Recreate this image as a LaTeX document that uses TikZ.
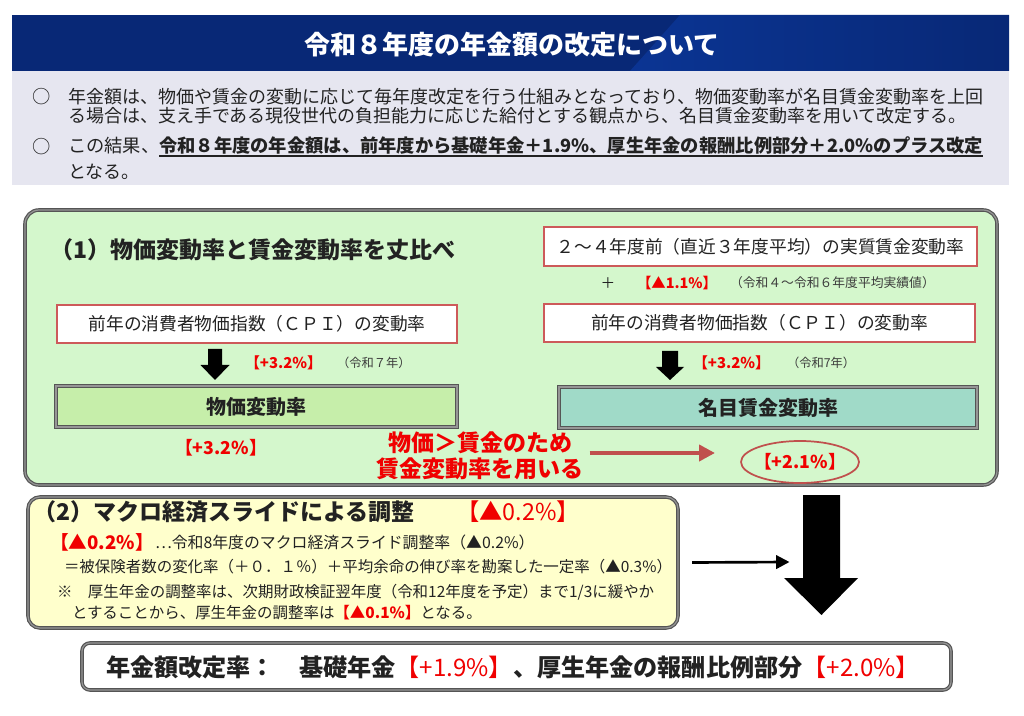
\documentclass[tikz,border=0pt]{standalone}
\usepackage{fontspec}
\setmainfont{Noto Sans CJK JP}
\usetikzlibrary{arrows.meta,shapes.geometric,calc}
\definecolor{navy}{RGB}{8,40,118}
\definecolor{navyb}{RGB}{12,58,160}
\definecolor{graybg}{RGB}{230,230,240}
\definecolor{greenbg}{RGB}{212,247,204}
\definecolor{greenbox}{RGB}{198,238,170}
\definecolor{tealbox}{RGB}{160,218,200}
\definecolor{yellowbg}{RGB}{255,255,204}
\definecolor{frame}{RGB}{85,85,85}
\definecolor{framein}{RGB}{150,150,150}
\definecolor{cpired}{RGB}{205,90,90}
\definecolor{brred}{RGB}{240,0,0}
\definecolor{dkred}{RGB}{192,80,77}
\definecolor{txt}{RGB}{34,34,34}
\definecolor{subtxt}{RGB}{60,60,60}
\newcommand\fsz[1]{\fontsize{#1}{#1}\selectfont}
\newcommand\ulbar[1]{\setbox0\hbox{#1}\rlap{\rule[-3pt]{\wd0}{1.1pt}}\box0}
\begin{document}
\begin{tikzpicture}[x=0.75pt,y=-0.75pt,
  every node/.style={inner sep=0pt,outer sep=0pt,text=txt},
  dbl/.style={draw=frame,line width=0.9pt,double=framein,double distance=0.9pt},
  cpibox/.style={draw=cpired,line width=0.9pt,fill=white,font=\fsz{13.3}},
  redv/.style={text=brred,font=\fsz{11.2}\bfseries},
  small/.style={text=subtxt,font=\fsz{9.2}},
  body/.style={anchor=west,font=\fsz{13.5}},
  bodyb/.style={anchor=west,font=\fsz{11.6}},
  blockarrow/.style={fill=black},
  thinarrow/.style={draw=black,line width=2pt,-{Triangle[length=10pt,width=10pt]}},
  redarrow/.style={draw=dkred,line width=3pt,-{Triangle[length=12pt,width=12pt]}}]
\useasboundingbox (0,0) rectangle (1024,716);
\fill[white] (0,0) rectangle (1024,716);
% header
\fill[navy] (12,15) rectangle (1009,71);
\shade[left color=navyb!70!navy,right color=navy] (680,15) -- (1009,15) -- (1009,71) -- (630,71) -- cycle;
\node[text=white,font=\fsz{19.5}\bfseries] (title) at (512,45) {令和８年度の年金額の改定について};
\fill[graybg] (12,71) rectangle (1009,185);
\node[font=\fsz{13.7}] (bul1) at (42,97) {○};
\node[body] (l1) at (68,97) {年金額は、物価や賃金の変動に応じて毎年度改定を行う仕組みとなっており、物価変動率が名目賃金変動率を上回};
\node[body] (l2) at (68,116) {る場合は、支え手である現役世代の負担能力に応じた給付とする観点から、名目賃金変動率を用いて改定する。};
\node[font=\fsz{13.7}] (bul2) at (42,147) {○};
\node[body,font=\fsz{13.7}] (l3) at (68,147) {この結果、\textbf{\ulbar{令和８年度の年金額は、前年度から基礎年金＋1.9\%、厚生年金の報酬比例部分＋2.0\%のプラス改定}}};
\node[body] (l4) at (68,172) {となる。};
% box (1)
\node[dbl,fill=greenbg,rounded corners=10.5pt,minimum width=729pt,minimum height=206.25pt] (box1) at (511,347.5) {};
\node[anchor=west,font=\fsz{17.25}\bfseries] (t1) at (50,250) {（1）物価変動率と賃金変動率を丈比べ};
\node[cpibox,minimum width=300pt,minimum height=28.5pt] (cpiL) at (257,324) {前年の消費者物価指数（ＣＰＩ）の変動率};
\node[dbl,fill=greenbox,minimum width=300.75pt,minimum height=30.75pt,font=\fsz{15}\bfseries] (bukka) at (256.5,406.5) {物価変動率};
\fill[blockarrow] ($(cpiL.south)+(-49,6)$) -- ++(14,0) -- ++(0,16) -- ++(7.5,0) -- ++(-14.5,15) -- ++(-14.5,-15) -- ++(7.5,0) -- cycle;
\node[redv,anchor=west] (vL) at (245,363) {【+3.2\%】};
\node[small,anchor=west] (yL) at (337,363) {（令和７年）};
\node[text=brred,font=\fsz{13.3}\bfseries] (resL) at (221,448) {【+3.2\%】};
\node[cpibox,minimum width=324.75pt,minimum height=29.25pt] (real) at (760.5,246.5) {２～４年度前（直近３年度平均）の実質賃金変動率};
\node[font=\fsz{11}] (plus) at (608,283) {＋};
\node[text=brred,font=\fsz{10.8}\bfseries,anchor=west] (v11) at (637,283) {【▲1.1\%】};
\node[small,font=\fsz{9.6},anchor=west] (y46) at (730,283) {（令和４～令和６年度平均実績値）};
\node[cpibox,minimum width=323.25pt,minimum height=28.5pt] (cpiR) at (759.5,323) {前年の消費者物価指数（ＣＰＩ）の変動率};
\node[dbl,fill=tealbox,minimum width=313.5pt,minimum height=30.75pt,font=\fsz{15}\bfseries] (meimoku) at (768,407.5) {名目賃金変動率};
\fill[blockarrow] ($(cpiR.south)+(-97.5,9)$) -- ++(16,0) -- ++(0,16) -- ++(6,0) -- ++(-14,13) -- ++(-14,-13) -- ++(6,0) -- cycle;
\node[redv,anchor=west] (vR) at (693,363) {【+3.2\%】};
\node[small,anchor=west] (yR) at (787,363) {（令和7年）};
\node[align=center,text=brred,font=\fsz{17.25}\bfseries] (reason) at (480,456) {物価＞賃金のため\\[2pt]賃金変動率を用いる};
\node[ellipse,draw=dkred,line width=1.3pt,minimum width=88.5pt,minimum height=31.5pt] (ell) at (800,462) {};
\node[text=brred,font=\fsz{13.3}\bfseries] (res21) at (ell.center) {【+2.1\%】};
\draw[redarrow] ($(reason.east)+(6,-3)$) -- ($(ell.west)+(-26,-9)$);
% box (2)
\node[dbl,fill=yellowbg,rounded corners=9pt,minimum width=487.5pt,minimum height=98.25pt] (box2) at (353,562.5) {};
\node[anchor=west,font=\fsz{17.25}\bfseries] (t2) at (33,512) {（2）マクロ経済スライドによる調整};
\node[anchor=west,text=brred,font=\fsz{17.5}] (v02) at (456,512) {【▲0.2\%】};
\node[anchor=west,text=brred,font=\fsz{14}\bfseries] (v02b) at (50,542) {【▲0.2\%】};
\node[bodyb,font=\fsz{11.9}] (m1) at (155,542) {…令和8年度のマクロ経済スライド調整率（▲0.2\%）};
\node[bodyb] (m2) at (64,567) {＝被保険者数の変化率（＋０．１％）＋平均余命の伸び率を勘案した一定率（▲0.3\%）};
\node[bodyb] (m3) at (57,592) {※　厚生年金の調整率は、次期財政検証翌年度（令和12年度を予定）まで1/3に緩やか};
\node[bodyb] (m4) at (72,613) {とすることから、厚生年金の調整率は{\color{brred}\bfseries【▲0.1\%】}となる。};
% big arrow
\coordinate (bigtop) at (821.5,495);
\fill[blockarrow] ($(bigtop)+(-18.5,0)$) -- ++(37,0) -- ++(0,83) -- ++(18,0) -- ++(-36.5,37) -- ++(-37.5,-37) -- ++(19,0) -- cycle;
\draw[thinarrow] ($(box2.east)+(14,0)$) -- ($(bigtop)+(-32,67)$);
% bottom
\node[dbl,fill=white,rounded corners=6pt,minimum width=651.75pt,minimum height=35.25pt] (final) at (516.5,666.5) {};
\node[font=\fsz{18.1}\bfseries] (ftext) at (513,667) {年金額改定率：　基礎年金{\color{brred}\mdseries【+1.9\%】}、厚生年金の報酬比例部分{\color{brred}\mdseries【+2.0\%】}};
\end{tikzpicture}
\end{document}
